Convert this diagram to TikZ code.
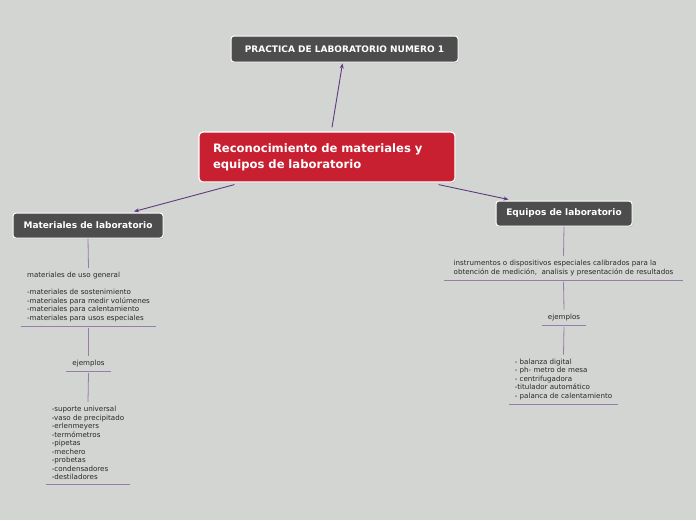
\documentclass[tikz,border=0pt]{standalone}
\usepackage{fontspec}
\setmainfont{DejaVu Sans}
\usetikzlibrary{arrows.meta,calc,shadows}
\definecolor{bg}{RGB}{211,213,210}
\definecolor{boxgray}{RGB}{77,77,77}
\definecolor{boxred}{RGB}{200,32,48}
\definecolor{arrowc}{RGB}{94,58,126}
\definecolor{leafline}{RGB}{150,125,172}
\definecolor{leaftext}{RGB}{40,40,40}
\begin{document}
\begin{tikzpicture}[x=1pt,y=-1pt,
  topicbox/.style={draw=white, line width=1pt, rounded corners=3pt, fill=boxgray,
    text=white, inner sep=0pt, drop shadow={shadow xshift=0.6pt, shadow yshift=-1.2pt, opacity=0.35}},
  mainbox/.style={draw=white, line width=1.2pt, rounded corners=4pt, fill=boxred,
    text=white, inner xsep=14pt, inner ysep=0pt, align=left,
    font=\bfseries\fontsize{11.6}{16}\selectfont,
    drop shadow={shadow xshift=0.6pt, shadow yshift=-1.2pt, opacity=0.35}},
  leaf/.style={inner xsep=6pt, inner ysep=4pt, align=left, text=leaftext,
    font=\fontsize{7.1}{8.5}\selectfont},
  uline/.style={draw=leafline, line width=0.8pt},
  vline/.style={draw=leafline, line width=0.8pt},
  arr/.style={draw=arrowc, line width=0.9pt, -{Stealth[length=5pt,width=4pt]}}
]
\fill[bg] (0,0) rectangle (696,520);
\useasboundingbox (0,0) rectangle (696,520);

% main topics
\node[topicbox, minimum width=227pt, minimum height=26pt, font=\bfseries\fontsize{9}{10}\selectfont]
  (title) at (344.5,49) {PRACTICA DE LABORATORIO NUMERO 1};
\node[mainbox, minimum width=256pt, minimum height=50pt, text width=228pt]
  (central) at (327,157) {Reconocimiento de materiales y\\equipos de laboratorio};
\node[topicbox, minimum width=150pt, minimum height=25pt, font=\bfseries\fontsize{9}{10}\selectfont]
  (mat) at (88,225.5) {Materiales de laboratorio};
\node[topicbox, minimum width=136pt, minimum height=25pt, font=\bfseries\fontsize{9}{10}\selectfont]
  (equ) at (564,213.5) {Equipos de laboratorio};

% arrows
\draw[arr] ($(central.north)+(5,-4)$) -- ($(title.south)+(-2,1)$);
\draw[arr] ($(central.south west)+(36,2)$) -- ($(mat.north)+(46,-1)$);
\draw[arr] ($(central.south east)+(-17,2)$) -- ($(equ.north west)+(13,-1)$);

% left branch
\node[leaf, minimum width=135pt, anchor=south] (l1) at (88.5,326)
  {materiales de uso general\\[8.5pt]
   -materiales de sostenimiento\\
   -materiales para medir volúmenes\\
   -materiales para calentamiento\\
   -materiales para usos especiales};
\draw[uline] (l1.south west) -- (l1.south east);
\node[leaf, minimum width=43pt, anchor=south, align=center] (l2) at (88.5,371) {ejemplos};
\draw[uline] (l2.south west) -- (l2.south east);
\node[leaf, minimum width=84pt, anchor=south] (l3) at (88,484)
  {-suporte universal\\
   -vaso de precipitado\\
   -erlenmeyers\\
   -termómetros\\
   -pipetas\\
   -mechero\\
   -probetas\\
   -condensadores\\
   -destiladores};
\draw[uline] (l3.south west) -- (l3.south east);
\draw[vline] (mat.south) -- (l1.north);
\draw[vline] ($(l1.south)+(0,2)$) -- (l2.north);
\draw[vline] ($(l2.south)+(0,2)$) -- (l3.north);

% right branch
\node[leaf, minimum width=239pt, anchor=south] (r1) at (563.5,280)
  {instrumentos o dispositivos especiales calibrados para la\\
   obtención de medición,\ \ analisis y presentación de resultados};
\draw[uline] (r1.south west) -- (r1.south east);
\node[leaf, minimum width=44pt, anchor=south, align=center] (r2) at (564,325) {ejemplos};
\draw[uline] (r2.south west) -- (r2.south east);
\node[leaf, minimum width=109pt, anchor=south] (r3) at (563.5,404)
  {- balanza digital\\
   - ph- metro de mesa\\
   - centrifugadora\\
   -titulador automático\\
   - palanca de calentamiento};
\draw[uline] (r3.south west) -- (r3.south east);
\draw[vline] (equ.south) -- (r1.north);
\draw[vline] ($(r1.south)+(0,2)$) -- (r2.north);
\draw[vline] ($(r2.south)+(0,2)$) -- (r3.north);
\end{tikzpicture}
\end{document}
